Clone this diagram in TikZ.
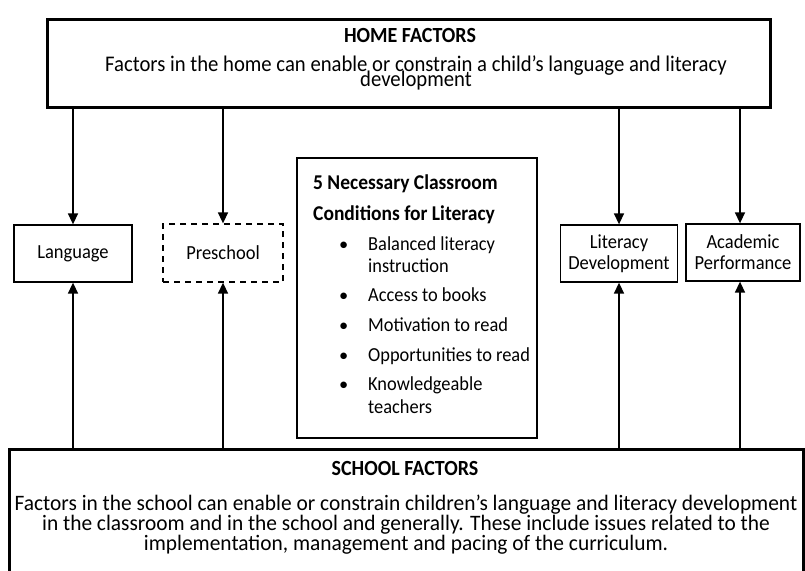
\documentclass[tikz,border=0pt]{standalone}
\usepackage{fontspec}
\usepackage{graphicx}
\setmainfont{Carlito}
\usetikzlibrary{arrows.meta}
\newcommand{\vst}[1]{\scalebox{1}[1.08]{#1}}
\newcommand{\vschool}[1]{\scalebox{1}[1.03]{#1}}
\newcommand{\tightlines}{\lineskiplimit=-100pt\relax}
\tikzset{
  thickbox/.style={draw, line width=3pt, inner sep=0pt},
  smallbox/.style={draw, line width=1.3pt, inner sep=0pt, align=center, font=\fontsize{18.5}{21}\selectfont\tightlines},
  dashbox/.style={smallbox, dash pattern=on 6pt off 5pt},
  arr/.style={line width=1.5pt, -{Triangle[length=11pt,width=10pt]}},
  txt/.style={inner sep=0pt, anchor=base, align=center, font=\fontsize{21.4}{20}\selectfont\tightlines},
  htxt/.style={inner sep=0pt, anchor=base, align=center, font=\fontsize{20.7}{15.5}\selectfont\tightlines},
  btxt/.style={inner sep=0pt, anchor=base, font=\fontsize{20}{20}\selectfont\bfseries},
  ltxt/.style={inner sep=0pt, anchor=base west, font=\fontsize{18.4}{18}\selectfont},
  lbtxt/.style={inner sep=0pt, anchor=base west, font=\fontsize{19.5}{19}\selectfont\bfseries},
}
\begin{document}
\begin{tikzpicture}[x=1pt,y=-1pt]
\useasboundingbox (0,0) rectangle (805,570);
% home box
\node[thickbox, minimum width=723pt, minimum height=88pt] (home) at (409,63) {};
\node[btxt] (homet) at (410,42) {\vst{HOME FACTORS}};
\node[htxt] (homed) at (416,86.5) {\vst{Factors in the home can enable or constrain a child’s language and literacy}\\\vst{development}};
% school box
\node[thickbox, minimum width=794pt, minimum height=140pt] (school) at (406,519) {};
\node[btxt] (schoolt) at (405,475) {\vst{SCHOOL FACTORS}};
\node[txt] (schoold) at (406,550) {\vschool{Factors in the school can enable or constrain children’s language and literacy development}\\\vschool{in the classroom and in the school and generally. These include issues related to the}\\\vschool{implementation, management and pacing of the curriculum.}};
% small boxes
\node[smallbox, minimum width=118pt, minimum height=57pt] (lang) at (73,253.5) {\vst{Language}};
\node[dashbox, minimum width=120pt, minimum height=58pt] (pre) at (223,253) {\vst{Preschool}};
\node[smallbox, minimum width=117pt, minimum height=57pt] (lit) at (619,253.5) {\vst{Literacy}\\\vst{Development}};
\node[smallbox, minimum width=114pt, minimum height=57pt] (acad) at (743,252.5) {\vst{Academic}\\\vst{Performance}};
% center box
\node[draw, line width=1.3pt, minimum width=240pt, minimum height=280pt, inner sep=0pt] (center) at (417,298) {};
\node[lbtxt] (c1) at (313,189) {\vst{5 Necessary Classroom}};
\node[lbtxt] (c2) at (313,220) {\vst{Conditions for Literacy}};
\node[ltxt] (b1) at (339,250) {•};
\node[ltxt] (i1a) at (368,250) {\vst{Balanced literacy}};
\node[ltxt] (i1b) at (368,272) {\vst{instruction}};
\node[ltxt] (b2) at (339,301) {•};
\node[ltxt] (i2) at (368,301) {\vst{Access to books}};
\node[ltxt] (b3) at (339,331) {•};
\node[ltxt] (i3) at (368,331) {\vst{Motivation to read}};
\node[ltxt] (b4) at (339,361) {•};
\node[ltxt] (i4) at (368,361) {\vst{Opportunities to read}};
\node[ltxt] (b5) at (339,390) {•};
\node[ltxt] (i5a) at (368,390) {\vst{Knowledgeable}};
\node[ltxt] (i5b) at (368,413) {\vst{teachers}};
% arrows from home
\draw[arr] (home.south -| lang) -- (lang.north);
\draw[arr] (home.south -| pre) -- (pre.north);
\draw[arr] (home.south -| lit) -- (lit.north);
\draw[arr] ([xshift=-3pt]home.south -| acad) -- ([xshift=-3pt]acad.north);
% arrows from school
\draw[arr] (school.north -| lang) -- (lang.south);
\draw[arr] (school.north -| pre) -- (pre.south);
\draw[arr] (school.north -| lit) -- (lit.south);
\draw[arr] ([xshift=-3pt]school.north -| acad) -- ([xshift=-3pt]acad.south);
\end{tikzpicture}
\end{document}
